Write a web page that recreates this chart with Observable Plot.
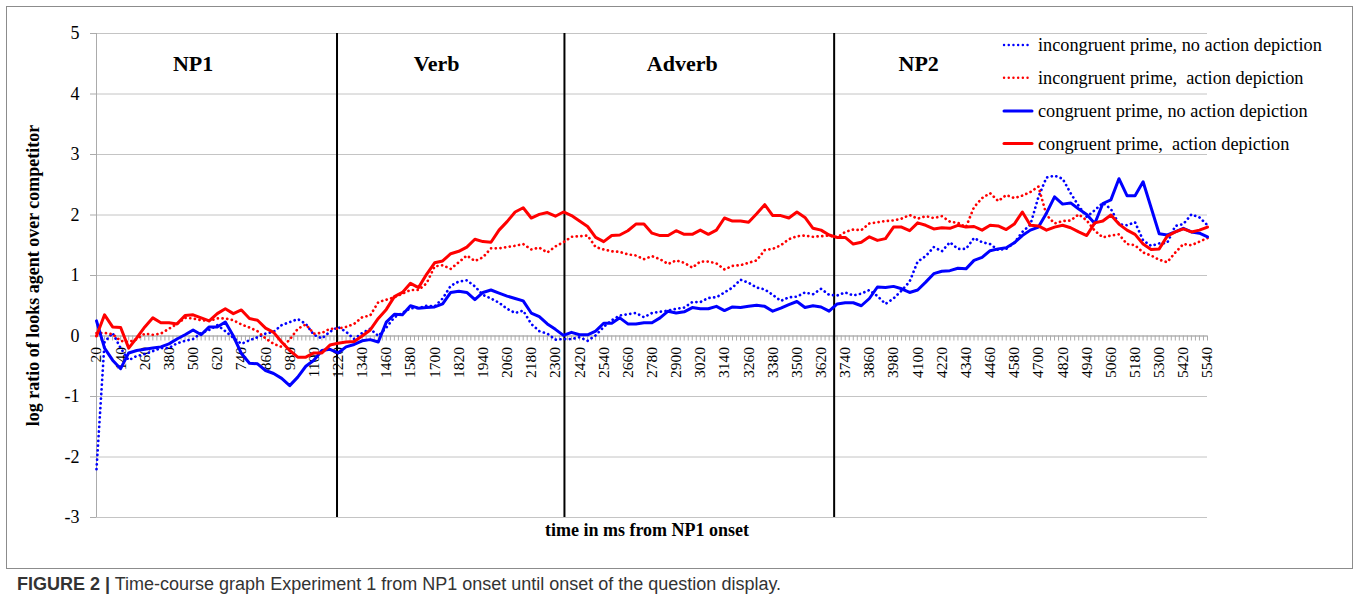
<!DOCTYPE html>
<html><head><meta charset="utf-8">
<script src="https://cdn.jsdelivr.net/npm/d3@7"></script>
<script src="https://cdn.jsdelivr.net/npm/@observablehq/plot@0.6"></script>
<style>
html,body{margin:0;padding:0;background:#fff;}
#fig{position:relative;width:1360px;height:608px;overflow:hidden;font-family:"Liberation Serif","Times New Roman",serif;}
#frame{position:absolute;left:6px;top:6px;width:1347px;height:563px;border:1px solid #8c8c8c;box-sizing:border-box;}
#plot{position:absolute;left:0;top:0;}
#legend{position:absolute;left:995px;top:28px;}
#caption{position:absolute;left:17px;top:574px;font-family:"Liberation Sans",Arial,sans-serif;font-size:18px;color:#333;white-space:pre;}
</style></head>
<body>
<div id="fig">
  <div id="frame"></div>
  <div id="plot"></div>
  <div id="legend"></div>
  <div id="caption"><b>FIGURE 2 |</b> Time-course graph Experiment 1 from NP1 onset until onset of the question display.</div>
</div>
<script>
// time axis: first sample and sampling step (ms)
const t0 = 20, step = 40;

// incongruent prime, no action depiction (blue dotted)
const incNoAct = [
 -2.2, -0.1, 0.05, -0.2, -0.4, -0.33, -0.3, -0.25, -0.2, -0.2,
 -0.12, -0.08, -0.05, 0.05, 0.1, 0.18, 0.08, -0.03, -0.13, -0.07,
 -0.02, 0.04, 0.07, 0.18, 0.23, 0.28, 0.2, 0.02, -0.04, 0.07,
 0.15, 0.07, -0.05, 0.05, 0.12, 0.0, 0.14, 0.31, 0.38, 0.46,
 0.46, 0.5, 0.49, 0.62, 0.83, 0.9, 0.92, 0.82, 0.68, 0.62,
 0.55, 0.45, 0.38, 0.42, 0.2, 0.08, 0.04, -0.06, -0.05, -0.05,
 -0.02, -0.08, 0.01, 0.15, 0.26, 0.34, 0.36, 0.38, 0.31, 0.38,
 0.4, 0.42, 0.45, 0.47, 0.56, 0.56, 0.63, 0.64, 0.72, 0.8,
 0.93, 0.88, 0.8, 0.77, 0.68, 0.58, 0.64, 0.65, 0.72, 0.69,
 0.78, 0.68, 0.67, 0.72, 0.67, 0.7, 0.76, 0.66, 0.53, 0.62,
 0.75, 0.9, 1.23, 1.32, 1.47, 1.4, 1.55, 1.44, 1.44, 1.62,
 1.55, 1.52, 1.42, 1.44, 1.54, 1.72, 1.84, 2.3, 2.62, 2.65,
 2.6, 2.36, 2.15, 1.97, 2.08, 2.2, 2.1, 1.85, 1.83, 1.88,
 1.58, 1.49, 1.53, 1.54, 1.82, 1.85, 2.01, 1.96, 1.83
];
// incongruent prime, action depiction (red dotted)
const incAct = [
 0.05, 0.05, 0.03, -0.08, -0.1, -0.05, 0.04, 0.02, 0.04, 0.12,
 0.2, 0.3, 0.29, 0.26, 0.25, 0.29, 0.29, 0.26, 0.19, 0.14,
 0.08, -0.04, -0.13, -0.18, -0.06, 0.12, 0.19, 0.04, 0.05, 0.12,
 0.12, 0.15, 0.2, 0.31, 0.34, 0.56, 0.6, 0.64, 0.7, 0.76,
 0.76, 0.87, 1.15, 1.17, 1.11, 1.22, 1.33, 1.24, 1.3, 1.45,
 1.45, 1.47, 1.49, 1.52, 1.43, 1.46, 1.38, 1.48, 1.55, 1.64,
 1.65, 1.66, 1.47, 1.43, 1.4, 1.39, 1.35, 1.33, 1.27, 1.32,
 1.27, 1.19, 1.25, 1.21, 1.13, 1.23, 1.23, 1.2, 1.1, 1.16,
 1.17, 1.21, 1.25, 1.42, 1.44, 1.5, 1.6, 1.65, 1.66, 1.64,
 1.65, 1.66, 1.63, 1.72, 1.76, 1.75, 1.86, 1.88, 1.9, 1.91,
 1.94, 2.0, 1.94, 1.98, 1.95, 1.98, 1.89, 1.87, 1.8, 2.13,
 2.28, 2.36, 2.23, 2.33, 2.28, 2.32, 2.38, 2.47, 2.0, 1.86,
 1.9, 1.91, 2.01, 1.91, 1.74, 1.63, 1.66, 1.68, 1.52, 1.5,
 1.38, 1.33, 1.26, 1.22, 1.38, 1.52, 1.5, 1.56, 1.62
];
// congruent prime, no action depiction (blue solid)
const conNoAct = [
 0.25, -0.2, -0.4, -0.54, -0.28, -0.24, -0.22, -0.2, -0.18, -0.13,
 -0.05, 0.02, 0.1, 0.02, 0.15, 0.15, 0.23, 0.0, -0.29, -0.45,
 -0.46, -0.57, -0.62, -0.7, -0.82, -0.68, -0.5, -0.4, -0.24, -0.22,
 -0.28, -0.18, -0.14, -0.08, -0.06, -0.1, 0.23, 0.36, 0.35, 0.5,
 0.46, 0.47, 0.48, 0.53, 0.72, 0.74, 0.72, 0.6, 0.72, 0.76,
 0.71, 0.66, 0.62, 0.58, 0.38, 0.32, 0.2, 0.11, 0.01, 0.06,
 0.02, 0.02, 0.08, 0.21, 0.21, 0.3, 0.2, 0.2, 0.22, 0.22,
 0.3, 0.41, 0.38, 0.4, 0.47, 0.45, 0.45, 0.49, 0.42, 0.48,
 0.47, 0.49, 0.51, 0.49, 0.41, 0.46, 0.52, 0.57, 0.47, 0.5,
 0.48, 0.41, 0.53, 0.55, 0.55, 0.5, 0.62, 0.81, 0.8, 0.82,
 0.78, 0.72, 0.76, 0.89, 1.03, 1.07, 1.08, 1.12, 1.11, 1.25,
 1.3, 1.41, 1.44, 1.46, 1.54, 1.66, 1.75, 1.8, 2.03, 2.3,
 2.18, 2.2, 2.1, 2.01, 1.86, 2.19, 2.25, 2.6, 2.32, 2.32,
 2.55, 2.12, 1.69, 1.67, 1.72, 1.78, 1.72, 1.7, 1.64
];
// congruent prime, action depiction (red solid)
const conAct = [
 0.0, 0.35, 0.15, 0.14, -0.2, -0.03, 0.15, 0.3, 0.22, 0.22,
 0.2, 0.34, 0.35, 0.3, 0.25, 0.37, 0.45, 0.37, 0.43, 0.29,
 0.26, 0.13, 0.06, -0.1, -0.24, -0.35, -0.35, -0.28, -0.28, -0.15,
 -0.12, -0.1, -0.09, 0.0, 0.1, 0.29, 0.44, 0.65, 0.72, 0.87,
 0.8, 1.02, 1.21, 1.24, 1.36, 1.4, 1.47, 1.6, 1.56, 1.55,
 1.75, 1.89, 2.05, 2.12, 1.95, 2.01, 2.04, 1.98, 2.05, 1.99,
 1.9, 1.81, 1.63, 1.56, 1.66, 1.67, 1.74, 1.85, 1.85, 1.7,
 1.66, 1.66, 1.74, 1.68, 1.68, 1.75, 1.68, 1.75, 1.95, 1.9,
 1.9, 1.88, 2.02, 2.17, 1.99, 1.99, 1.95, 2.05, 1.96, 1.78,
 1.75, 1.67, 1.63, 1.63, 1.52, 1.55, 1.64, 1.58, 1.61, 1.8,
 1.8, 1.74, 1.87, 1.83, 1.77, 1.79, 1.78, 1.83, 1.8, 1.81,
 1.75, 1.83, 1.82, 1.76, 1.85, 2.05, 1.83, 1.82, 1.75, 1.8,
 1.83, 1.79, 1.72, 1.66, 1.87, 1.9, 2.0, 1.85, 1.75, 1.68,
 1.52, 1.43, 1.44, 1.65, 1.72, 1.77, 1.72, 1.75, 1.8
];

const seriesNames = [
  "incongruent prime, no action depiction",
  "incongruent prime,  action depiction",
  "congruent prime, no action depiction",
  "congruent prime,  action depiction"
];
const seriesValues = [incNoAct, incAct, conNoAct, conAct];
const seriesColors = ["#0000ff", "#ff0000", "#0000ff", "#ff0000"];
const seriesDotted = [true, true, false, false];

const xLabelTicks = [20,140,260,380,500,620,740,860,980,1100,1220,1340,1460,1580,1700,1820,1940,2060,2180,2300,2420,2540,2660,2780,2900,3020,3140,3260,3380,3500,3620,3740,3860,3980,4100,4220,4340,4460,4580,4700,4820,4940,5060,5180,5300,5420,5540];
const xMinorStep = 20;
const yTicks = [-3,-2,-1,0,1,2,3,4,5];
const regionNames = ["NP1", "Verb", "Adverb", "NP2"];
const regionLabelT = [500, 1710, 2930, 4105];
const regionLabelY = 4.5;
const regionBounds = [1215, 2345, 3685];

const times = d3.range(incNoAct.length).map(i => t0 + i * step);
const minorTicks = d3.range(xLabelTicks[0], xLabelTicks[xLabelTicks.length - 1] + 1, xMinorStep);

const H = 570, mTop = 33, mBottom = 53;
const pxPerUnit = (H - mTop - mBottom) / (yTicks[yTicks.length-1] - yTicks[0]);
const tickLen = 5 / pxPerUnit;

const serif = '"Liberation Serif","Times New Roman",serif';
const grey = "#ababab";

const lineMarks = seriesValues.map((vals, s) =>
  Plot.line(vals.map((v, i) => ({t: times[i], v})), {
    x: "t", y: "v",
    stroke: seriesColors[s],
    strokeWidth: seriesDotted[s] ? 2.7 : 3,
    strokeDasharray: seriesDotted[s] ? "0.1,4.6" : null,
    strokeLinecap: "round",
    strokeLinejoin: "round"
  })
);

const chart = Plot.plot({
  width: 1360, height: H,
  marginLeft: 96, marginRight: 153, marginTop: mTop, marginBottom: mBottom,
  style: {fontFamily: serif, background: "transparent", color: "black"},
  x: {domain: [xLabelTicks[0], xLabelTicks[xLabelTicks.length - 1]], axis: null},
  y: {domain: [yTicks[0], yTicks[yTicks.length - 1]], axis: null},
  marks: [
    Plot.gridY(yTicks, {stroke: "#c4c4c4", strokeOpacity: 1}),
    Plot.axisY(yTicks, {tickSize: 6, tickPadding: 11, fontSize: 18, stroke: grey, fill: "black", label: null, tickFormat: d => String(d)}),
    Plot.ruleX([xLabelTicks[0]], {stroke: grey}),
    Plot.ruleY([0], {stroke: grey}),
    Plot.ruleX(minorTicks, {x: d => d, y1: 0, y2: -tickLen, stroke: grey}),
    Plot.text(xLabelTicks, {x: d => d, y: 0, dy: 11, rotate: -90, textAnchor: "end", text: d => String(d), fontSize: 15.5, fill: "black"}),
    Plot.ruleX(regionBounds, {stroke: "black", strokeWidth: 2}),
    Plot.text(regionNames, {x: (d, i) => regionLabelT[i], y: regionLabelY, text: d => d, fontWeight: "bold", fontSize: 22, fill: "black"}),
    ...lineMarks,
    Plot.text(["log ratio of looks agent over competitor"], {frameAnchor: "left", dx: -63, rotate: -90, textAnchor: "middle", fontWeight: "bold", fontSize: 18, fill: "black"}),
    Plot.text(["time in ms from NP1 onset"], {frameAnchor: "bottom", dy: 18, dx: -5, fontWeight: "bold", fontSize: 18, fill: "black"})
  ]
});
document.getElementById("plot").appendChild(chart);

// legend
const ns = "http://www.w3.org/2000/svg";
const lg = document.createElementNS(ns, "svg");
lg.setAttribute("width", 360); lg.setAttribute("height", 135);
const rowY = [17, 49.7, 83, 115.5];
seriesNames.forEach((name, i) => {
  const l = document.createElementNS(ns, "line");
  l.setAttribute("x1", 9); l.setAttribute("x2", 37);
  l.setAttribute("y1", rowY[i]); l.setAttribute("y2", rowY[i]);
  l.setAttribute("stroke", seriesColors[i]);
  l.setAttribute("stroke-width", seriesDotted[i] ? 2.4 : 3);
  l.setAttribute("stroke-linecap", "round");
  if (seriesDotted[i]) l.setAttribute("stroke-dasharray", "0.1,4.6");
  lg.appendChild(l);
  const tx = document.createElementNS(ns, "text");
  tx.setAttribute("x", 43); tx.setAttribute("y", rowY[i]);
  tx.setAttribute("dy", "0.33em");
  tx.setAttribute("font-family", serif);
  tx.setAttribute("font-size", 18.3);
  tx.setAttribute("style", "white-space:pre");
  tx.textContent = name;
  lg.appendChild(tx);
});
document.getElementById("legend").appendChild(lg);
</script>
</body></html>
